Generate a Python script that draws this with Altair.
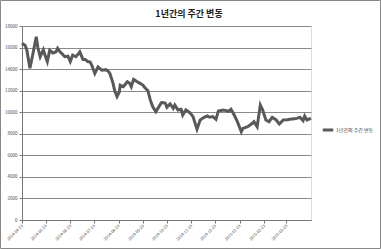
import altair as alt
import pandas as pd

dates = [
    "2014-04-23", "2014-04-27", "2014-04-29", "2014-05-03", "2014-05-07", "2014-05-11",
    "2014-05-13", "2014-05-16", "2014-05-20", "2014-05-22", "2014-05-25", "2014-05-28",
    "2014-06-01", "2014-06-05", "2014-06-07", "2014-06-10", "2014-06-13", "2014-06-16",
    "2014-06-20", "2014-06-23", "2014-06-26", "2014-06-30", "2014-07-03", "2014-07-05",
    "2014-07-09", "2014-07-12", "2014-07-15", "2014-07-18", "2014-07-20", "2014-07-24",
    "2014-07-28", "2014-07-31", "2014-08-02", "2014-08-07", "2014-08-10", "2014-08-12",
    "2014-08-16", "2014-08-18", "2014-08-21", "2014-08-24", "2014-08-25", "2014-08-29",
    "2014-09-03", "2014-09-06", "2014-09-08", "2014-09-11", "2014-09-15", "2014-09-19",
    "2014-09-23", "2014-09-25", "2014-09-29", "2014-10-02", "2014-10-05", "2014-10-09",
    "2014-10-13", "2014-10-16", "2014-10-18", "2014-10-21", "2014-10-23", "2014-10-27",
    "2014-10-31", "2014-11-02", "2014-11-06", "2014-11-10", "2014-11-12", "2014-11-16",
    "2014-11-21", "2014-11-25", "2014-11-30", "2014-12-04", "2014-12-09", "2014-12-13",
    "2014-12-16", "2014-12-20", "2014-12-24", "2014-12-27", "2015-01-02", "2015-01-06",
    "2015-01-09", "2015-01-12", "2015-01-16", "2015-01-20", "2015-01-25", "2015-01-27",
    "2015-02-02", "2015-02-08", "2015-02-10", "2015-02-14", "2015-02-18", "2015-02-21",
    "2015-02-25", "2015-03-01", "2015-03-05", "2015-03-10", "2015-03-14", "2015-03-19",
    "2015-03-24", "2015-03-27", "2015-04-02", "2015-04-05", "2015-04-09", "2015-04-13",
    "2015-04-15", "2015-04-18", "2015-04-20", "2015-04-23",
]
values = [
    16400, 16200, 15800, 14080, 15500, 17000,
    16000, 15150, 15800, 15300, 14700, 15750,
    15500, 15600, 15930, 15600, 15400, 15150,
    15200, 14700, 15300, 15150, 15400, 15600,
    14900, 14900, 14700, 14650, 14380, 13600,
    14200, 14000, 13900, 13950, 13800, 13600,
    12680, 12000, 11450, 11900, 12500, 12370,
    12830, 12680, 12370, 13050, 12850, 12680,
    12500, 12300, 12000, 11140, 10520, 10050,
    10520, 10890, 10900, 10830, 10460, 10770,
    10360, 10670, 10210, 10270, 9740, 10210,
    9960, 9590, 8420, 9280, 9530, 9650,
    9530, 9590, 9340, 10120, 10210, 10150,
    10090, 10270, 9740, 9120, 8190, 8500,
    8650, 8970, 9120, 8650, 10670, 10210,
    9280, 9120, 9530, 9280, 8910, 9280,
    9300, 9340, 9400, 9430, 9530, 9220,
    9650, 9280, 9350, 9430,
]
series_name = "1년간의 주간 변동"
chart_title = "1년간의 주간 변동"
tick_dates = [
    (2014, 4, 23), (2014, 5, 23), (2014, 6, 23), (2014, 7, 23), (2014, 8, 23), (2014, 9, 23),
    (2014, 10, 23), (2014, 11, 23), (2014, 12, 23), (2015, 1, 23), (2015, 2, 23), (2015, 3, 23),
]
y_ticks = [0, 2000, 4000, 6000, 8000, 10000, 12000, 14000, 16000, 18000]

df = pd.DataFrame({"date": dates, "value": values, "series": series_name})

FONT = "Noto Sans CJK KR"
GRAY = "#595959"

x_vals = [alt.DateTime(year=y, month=m, date=d, utc=True) for (y, m, d) in tick_dates]

line = alt.Chart(df).mark_line(strokeWidth=3, color=GRAY).encode(
    x=alt.X(
        "date:T",
        scale=alt.Scale(
            type="utc",
            domain=[alt.DateTime(year=2014, month=4, date=23, utc=True),
                    alt.DateTime(year=2015, month=4, date=23, utc=True)],
            nice=False,
        ),
        axis=alt.Axis(
            title=None, values=x_vals,
            labelExpr="utcFormat(datum.value, '%Y-%m-%d')",
            labelAngle=-45, labelAlign="right", labelBaseline="middle",
            labelFontSize=4, labelColor="#444", labelFont=FONT,
            grid=False, tickSize=3, tickColor="#777", domainColor="#777", labelPadding=2,
        ),
    ),
    y=alt.Y(
        "value:Q",
        scale=alt.Scale(domain=[0, 18000], nice=False),
        axis=alt.Axis(
            title=None, values=y_ticks, format="d", labelFontSize=4.5, labelColor="#444",
            labelFont=FONT, grid=True, gridColor="#8a8a8a", gridWidth=1,
            tickSize=3, tickColor="#777", domainColor="#777", labelPadding=2,
        ),
    ),
    color=alt.Color(
        "series:N",
        scale=alt.Scale(range=[GRAY]),
        legend=alt.Legend(
            orient="none", legendX=299, legendY=97, title=None, symbolType="stroke",
            symbolStrokeWidth=3, symbolSize=110, labelFontSize=5, labelFont=FONT,
            labelColor="#444", labelOffset=1,
        ),
    ),
)

one = pd.DataFrame({"a": [0]})

border = alt.Chart(one).mark_rect(
    filled=False, stroke="#888", strokeWidth=1
).encode(
    x=alt.value(-21.5), x2=alt.value(358.5), y=alt.value(-25.5), y2=alt.value(222.5)
)

title_text = alt.Chart(one).mark_text(
    text=chart_title, font=FONT, fontSize=9, fontWeight="bold", color="#222",
    align="center", baseline="alphabetic",
).encode(x=alt.value(167), y=alt.value(-9))

chart = alt.layer(border, line, title_text).properties(
    width=289,
    height=194,
    autosize=alt.AutoSizeParams(type="none"),
    padding={"left": 22, "top": 26, "right": 70, "bottom": 29},
).configure_view(stroke=None).configure(background="white")

chart.save("out.html", embed_options={"renderer": "svg", "actions": False})
